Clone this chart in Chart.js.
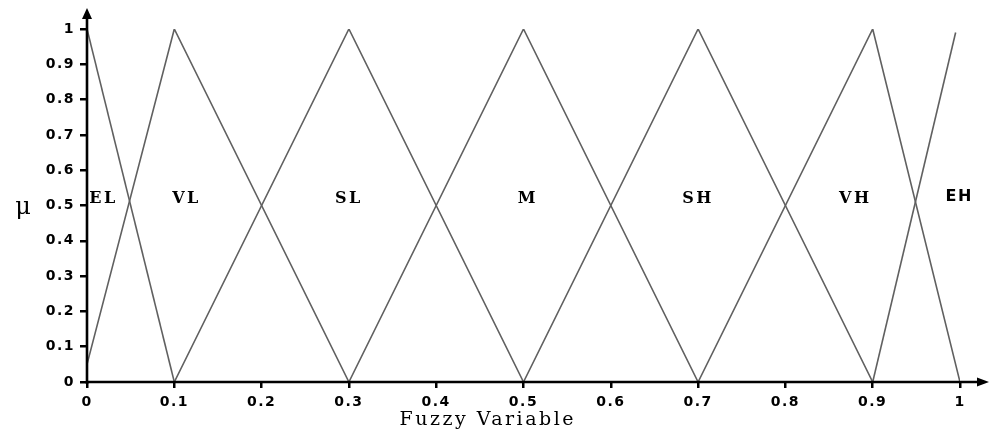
<!DOCTYPE html>
<html><head><meta charset="utf-8">
<script src="https://cdn.jsdelivr.net/npm/chart.js@4"></script>
<style>html,body{margin:0;padding:0;background:#fff}</style>
</head><body>
<canvas id="c" width="992" height="437"></canvas>
<script>
const termNames = ['EL','VL','SL','M','SH','VH','EH'];
const termX = [[0,0.1],[0,0.1,0.3],[0.1,0.3,0.5],[0.3,0.5,0.7],[0.5,0.7,0.9],[0.7,0.9,1],[0.9,0.995]];
const termY = [[1,0],[0.05,1,0],[0,1,0],[0,1,0],[0,1,0],[0,1,0],[0,0.99]];
const labelX = [0.019,0.114,0.300,0.505,0.700,0.880,0.999];
const labelY = [0.52,0.52,0.52,0.52,0.52,0.52,0.525];
const tickValues = [0,0.1,0.2,0.3,0.4,0.5,0.6,0.7,0.8,0.9,1];
const tickLabels = ['0','0.1','0.2','0.3','0.4','0.5','0.6','0.7','0.8','0.9','1'];
const xTitle = 'Fuzzy Variable';
const yTitle = 'μ';

const datasets = termNames.map((n, i) => ({
  label: n,
  data: termX[i].map((xv, j) => ({x: xv, y: termY[i][j]})),
  showLine: true,
  borderColor: '#606060',
  borderWidth: 1.6,
  pointRadius: 0,
  fill: false,
  tension: 0
}));

const deco = {
  id: 'deco',
  beforeDraw(chart) { chart.ctx.letterSpacing = '1.5px'; },
  afterDraw(chart) {
    const {ctx, chartArea: a, scales: {x, y}} = chart;
    ctx.save();
    ctx.letterSpacing = '0px';
    ctx.strokeStyle = '#000'; ctx.fillStyle = '#000'; ctx.lineWidth = 2.6;
    const x0 = x.getPixelForValue(0), y0 = y.getPixelForValue(0);
    ctx.beginPath();
    ctx.moveTo(x0, y0 + 2); ctx.lineTo(x0, a.top - 10);
    ctx.moveTo(x0 - 1.3, y0); ctx.lineTo(a.right + 20, y0);
    ctx.stroke();
    ctx.beginPath();
    ctx.moveTo(x0, a.top - 21); ctx.lineTo(x0 - 5, a.top - 10); ctx.lineTo(x0 + 5, a.top - 10); ctx.closePath(); ctx.fill();
    ctx.beginPath();
    ctx.moveTo(a.right + 29, y0); ctx.lineTo(a.right + 17, y0 - 4.5); ctx.lineTo(a.right + 17, y0 + 4.5); ctx.closePath(); ctx.fill();

    // term labels
    ctx.textAlign = 'center'; ctx.textBaseline = 'middle';
    termNames.forEach((n, i) => {
      if (n === 'EH') { ctx.font = 'bold 16px "DejaVu Sans"'; ctx.letterSpacing = '1.5px'; }
      else { ctx.font = 'bold 16px "DejaVu Serif"'; ctx.letterSpacing = '2.5px'; }
      ctx.fillText(n, x.getPixelForValue(labelX[i]), y.getPixelForValue(labelY[i]));
    });

    // axis titles
    ctx.letterSpacing = '2.5px';
    ctx.textBaseline = 'alphabetic';
    ctx.font = '19px "DejaVu Serif"';
    ctx.fillText(xTitle, x.getPixelForValue(0.459), chart.height - 12);
    ctx.letterSpacing = '0px';
    ctx.font = '24px "DejaVu Serif"';
    ctx.fillText(yTitle, 23, y.getPixelForValue(0.475));
    ctx.restore();
  }
};

const tickFont = {family: '"DejaVu Sans"', size: 14, weight: 'bold'};
function setTicks(s) { s.ticks = tickValues.map(v => ({value: v})); }

new Chart(document.getElementById('c'), {
  type: 'scatter',
  data: {datasets},
  options: {
    responsive: false,
    animation: false,
    devicePixelRatio: 1,
    layout: {padding: {left: 0, top: 29, right: 32, bottom: 0}},
    plugins: {legend: {display: false}, tooltip: {enabled: false}, title: {display: false}},
    scales: {
      x: {
        type: 'linear', min: 0, max: 1,
        afterBuildTicks: setTicks,
        afterFit(s) { s.height = 55; s.paddingLeft = 0; s.paddingRight = 0; },
        grid: {drawOnChartArea: false, drawTicks: true, tickLength: 6, color: '#000', lineWidth: 2.5},
        border: {display: false},
        ticks: {color: '#000', font: tickFont, padding: 6, maxRotation: 0, autoSkip: false,
          callback: (v, i) => tickLabels[i]}
      },
      y: {
        type: 'linear', min: 0, max: 1,
        afterBuildTicks: setTicks,
        afterFit(s) { s.width = 87; s.paddingTop = 0; s.paddingBottom = 0; },
        grid: {drawOnChartArea: false, drawTicks: true, tickLength: 7, color: '#000', lineWidth: 2.5},
        border: {display: false},
        ticks: {color: '#000', font: tickFont, padding: 5, autoSkip: false,
          callback: (v, i) => tickLabels[i]}
      }
    }
  },
  plugins: [deco]
});
</script>
</body></html>
